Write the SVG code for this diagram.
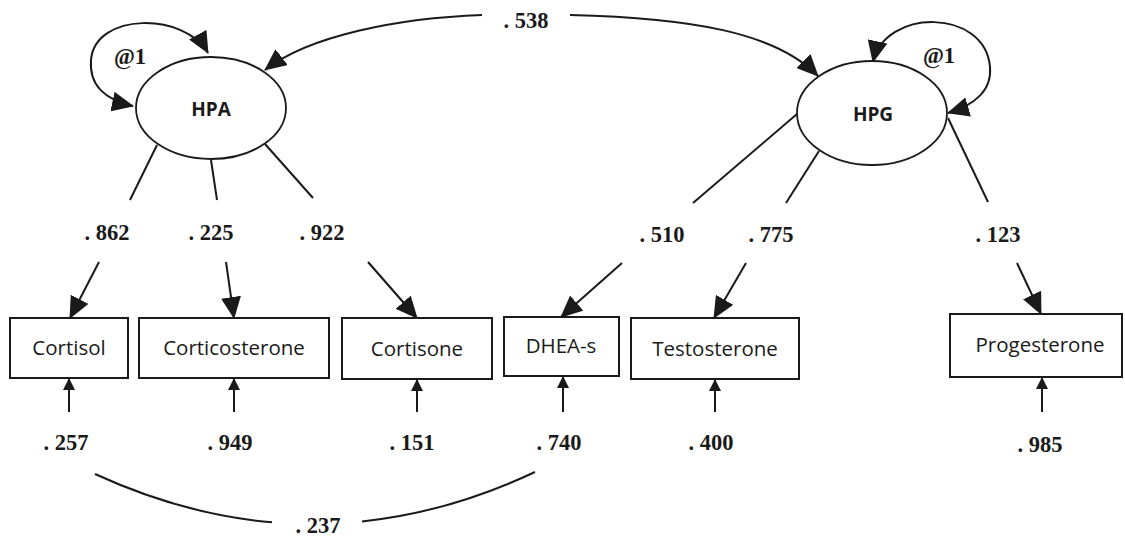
<svg xmlns="http://www.w3.org/2000/svg" width="1125" height="536" viewBox="0 0 1125 536">
<style>
.bg{fill:#fff}
.lat{fill:#fff;stroke:#1a1a1a;stroke-width:1.8}
.obs{fill:#fff;stroke:#1a1a1a;stroke-width:2}
.latt{font-family:"Open Sans","Liberation Sans",sans-serif;font-weight:bold;font-size:19px;fill:#1a1a1a;text-anchor:middle}
.obst{font-family:"Open Sans","Liberation Sans",sans-serif;font-size:20.5px;fill:#1a1a1a;text-anchor:middle}
.num{font-family:"Liberation Serif","Times New Roman",serif;font-weight:bold;font-size:22.5px;fill:#1a1a1a;text-anchor:middle}
.ln{fill:none;stroke:#1a1a1a;stroke-width:2}
.big{marker-end:url(#ah)}
.both{marker-start:url(#ah);marker-end:url(#ah)}
.err{marker-end:url(#sm)}
</style>
<defs>
<marker id="ah" viewBox="0 0 22 20" refX="21" refY="10" markerWidth="22" markerHeight="20" markerUnits="userSpaceOnUse" orient="auto-start-reverse"><path d="M0,0 L22,10 L0,20 z" fill="#1a1a1a"/></marker>
<marker id="sm" viewBox="0 0 12 12" refX="11" refY="6" markerWidth="12" markerHeight="12" markerUnits="userSpaceOnUse" orient="auto"><path d="M0,0 L12,6 L0,12 z" fill="#1a1a1a"/></marker>
</defs>
<rect class="bg" x="0" y="0" width="1125" height="536"/>

<g id="connectors">
  <path class="ln both" d="M208,53 C185,12 95,12 91,60 C89,85 105,100 133,106"/>
  <path class="ln both" d="M873,62 C885,8 985,8 990,67 C992,90 975,105 948,113"/>
  <path class="ln big" d="M482,15 C400,18 310,35 265,70"/>
  <path class="ln big" d="M570,15 C690,18 775,32 818,76"/>
  <line class="ln" x1="157" y1="145" x2="130" y2="200"/>
  <line class="ln big" x1="99" y1="262" x2="70" y2="318"/>
  <line class="ln" x1="211" y1="160" x2="217" y2="200"/>
  <line class="ln big" x1="226" y1="262" x2="234" y2="318"/>
  <line class="ln" x1="265" y1="144" x2="313" y2="198"/>
  <line class="ln big" x1="368" y1="262" x2="417" y2="318"/>
  <line class="ln" x1="797" y1="114" x2="693" y2="203"/>
  <line class="ln big" x1="622" y1="263" x2="561" y2="317"/>
  <line class="ln" x1="819" y1="151" x2="786" y2="203"/>
  <line class="ln big" x1="746" y1="263" x2="714" y2="318"/>
  <line class="ln" x1="948" y1="118" x2="988" y2="202"/>
  <line class="ln big" x1="1017" y1="263" x2="1041" y2="314"/>
  <line class="ln err" x1="69" y1="412" x2="69" y2="379"/>
  <line class="ln err" x1="234" y1="412" x2="234" y2="379"/>
  <line class="ln err" x1="417" y1="412" x2="417" y2="380"/>
  <line class="ln err" x1="563" y1="412" x2="563" y2="377"/>
  <line class="ln err" x1="715" y1="412" x2="715" y2="380"/>
  <line class="ln err" x1="1042" y1="412" x2="1042" y2="378"/>
  <path class="ln" d="M95,474 Q183.4,514.6 272,522.3"/>
  <path class="ln" d="M362,521.4 Q448.5,512.5 535,472"/>
</g>

<g id="labels">
  <text class="num" x="130" y="64">@1</text>
  <text class="num" x="939" y="63">@1</text>
  <text class="num" x="526" y="28">. 538</text>
  <text class="num" x="107" y="240">. 862</text>
  <text class="num" x="211" y="240">. 225</text>
  <text class="num" x="322" y="240">. 922</text>
  <text class="num" x="662" y="242">. 510</text>
  <text class="num" x="771" y="242">. 775</text>
  <text class="num" x="998" y="242">. 123</text>
  <text class="num" x="66" y="450">. 257</text>
  <text class="num" x="230" y="450">. 949</text>
  <text class="num" x="412" y="450">. 151</text>
  <text class="num" x="559" y="450">. 740</text>
  <text class="num" x="711" y="450">. 400</text>
  <text class="num" x="1040" y="452">. 985</text>
  <text class="num" x="318" y="533">. 237</text>
</g>

<g id="HPA">
  <ellipse class="lat" cx="211" cy="108" rx="75" ry="51"/>
  <text class="latt" x="211" y="116">HPA</text>
</g>
<g id="HPG">
  <ellipse class="lat" cx="872" cy="113" rx="75" ry="52"/>
  <text class="latt" x="873" y="121">HPG</text>
</g>
<g id="Cortisol">
  <rect class="obs" x="10" y="318" width="118" height="60"/>
  <text class="obst" x="69" y="355">Cortisol</text>
</g>
<g id="Corticosterone">
  <rect class="obs" x="139" y="318" width="190" height="60"/>
  <text class="obst" x="234" y="355">Corticosterone</text>
</g>
<g id="Cortisone">
  <rect class="obs" x="342" y="318" width="150" height="61"/>
  <text class="obst" x="417" y="356">Cortisone</text>
</g>
<g id="DHEA-s">
  <rect class="obs" x="504" y="317" width="115" height="59"/>
  <text class="obst" x="561" y="353">DHEA-s</text>
</g>
<g id="Testosterone">
  <rect class="obs" x="631" y="318" width="168" height="61"/>
  <text class="obst" x="715" y="356">Testosterone</text>
</g>
<g id="Progesterone">
  <rect class="obs" x="950" y="314" width="172" height="63"/>
  <text class="obst" x="1040" y="352">Progesterone</text>
</g>
</svg>
